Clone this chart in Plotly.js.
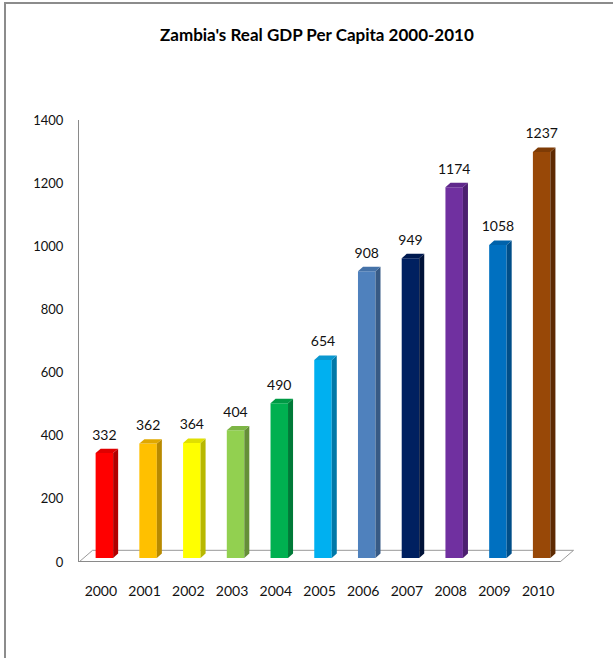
<!DOCTYPE html>
<html>
<head>
<meta charset="utf-8">
<script src="https://cdn.plot.ly/plotly-3.0.1.min.js"></script>
<style>
  html, body { margin: 0; padding: 0; width: 613px; height: 658px; overflow: hidden; background: #fff; }
  #frame { position: absolute; left: 4px; top: 2px; width: 700px; height: 700px; border-left: 2px solid #8c8c8c; border-top: 2px solid #8c8c8c; }
  #chart { position: absolute; left: 0; top: 0; width: 613px; height: 658px; }
</style>
</head>
<body>
<div id="chart"></div>
<div id="frame"></div>
<script>
// ---- data ----
const years = ["2000", "2001", "2002", "2003", "2004", "2005", "2006", "2007", "2008", "2009", "2010"];
// bar heights as drawn
const barHeights = [332, 362, 364, 404, 490, 627, 908, 949, 1174, 991, 1286];
// data labels as printed
const dataLabels = ["332", "362", "364", "404", "490", "654", "908", "949", "1174", "1058", "1237"];
const yTicks = [0, 200, 400, 600, 800, 1000, 1200, 1400];

// ---- styles ----
const frontColors = ["#FF0000", "#FFC000", "#FFFF00", "#92D050", "#00B050", "#00B0F0", "#4F81BD", "#002060", "#7030A0", "#0070C0", "#984807"];
const sideColors  = ["#B00000", "#B88A00", "#B8B800", "#658F38", "#007A38", "#0078A8", "#375A85", "#001238", "#4C1F70", "#004E88", "#5E2A02"];
const topColors   = ["#E00000", "#E0A800", "#E0E000", "#7DB545", "#009A45", "#0A98D0", "#4572A8", "#001A50", "#60288C", "#0062AA", "#7E3B05"];

const FONT = "Lato, 'Open Sans', sans-serif";
const xs = years.map((_, i) => i);
const base = 13;        // bar base above front floor edge
const offStart = -0.12; // front face start relative to category
const faceW = 0.40;     // front face width
const dx = 0.115, dy = 14; // depth of bar
const fdx = 0.31, fdy = 37; // depth of floor

const shapes = [];
// floor
shapes.push({
  type: 'path', xref: 'x', yref: 'y', layer: 'below',
  path: `M -0.5,0 L ${-0.5 + fdx},${fdy} L ${10.5 + fdx},${fdy} L 10.5,0 Z`,
  fillcolor: '#ffffff', line: { color: '#9a9a9a', width: 1 }
});
shapes.push({
  type: 'line', xref: 'x', yref: 'y', layer: 'below',
  x0: -0.5, x1: 10.5, y0: 0, y1: 0,
  line: { color: '#8a8a8a', width: 2 }
});
// side and top faces
xs.forEach((x, i) => {
  const xl = x + offStart, xr = x + offStart + faceW;
  const top = base + barHeights[i];
  shapes.push({
    type: 'path', xref: 'x', yref: 'y', layer: 'above',
    path: `M ${xr},${base} L ${xr},${top} L ${xr + dx},${top + dy} L ${xr + dx},${base + dy} Z`,
    fillcolor: sideColors[i], line: { width: 0 }
  });
  shapes.push({
    type: 'path', xref: 'x', yref: 'y', layer: 'above',
    path: `M ${xl},${top} L ${xl + dx},${top + dy} L ${xr + dx},${top + dy} L ${xr},${top} Z`,
    fillcolor: topColors[i], line: { width: 0 }
  });
});

const bars = {
  type: 'bar',
  x: xs,
  y: barHeights,
  base: base,
  width: faceW,
  offset: offStart,
  marker: { color: frontColors, line: { width: 0 } },
  hoverinfo: 'skip'
};

const labels = {
  type: 'scatter',
  mode: 'text',
  x: xs.map(x => x + offStart + faceW / 2),
  y: barHeights.map(h => base + h + 54),
  text: dataLabels,
  textposition: 'middle center',
  textfont: { family: FONT, size: 14, color: '#111' },
  cliponaxis: false,
  hoverinfo: 'skip'
};

const layout = {
  width: 613, height: 658,
  margin: { l: 79, r: 39, t: 120, b: 96 },
  paper_bgcolor: '#ffffff', plot_bgcolor: 'rgba(0,0,0,0)',
  showlegend: false, hovermode: false,
  title: {
    text: "Zambia's Real GDP Per Capita 2000-2010",
    font: { family: FONT, size: 17, color: '#000', weight: 'bold' },
    x: 0.517, xref: 'container', xanchor: 'center',
    y: 0.947, yref: 'container', yanchor: 'middle'
  },
  xaxis: {
    range: [-0.5, 10.82],
    tickmode: 'array', tickvals: xs, ticktext: years,
    showline: false, showgrid: false, zeroline: false, ticks: '',
    ticklabelstandoff: 19,
    tickfont: { family: FONT, size: 14, color: '#111' },
    fixedrange: true
  },
  yaxis: {
    range: [0, 1400],
    tickmode: 'array', tickvals: yTicks, ticktext: yTicks.map(String),
    showline: true, linecolor: '#8a8a8a', linewidth: 1,
    showgrid: false, zeroline: false, ticks: '',
    ticklabelstandoff: 12,
    tickfont: { family: FONT, size: 13, color: '#111' },
    fixedrange: true
  },
  shapes: shapes
};

Plotly.newPlot('chart', [bars, labels], layout, { displayModeBar: false, staticPlot: true });
</script>
</body>
</html>
